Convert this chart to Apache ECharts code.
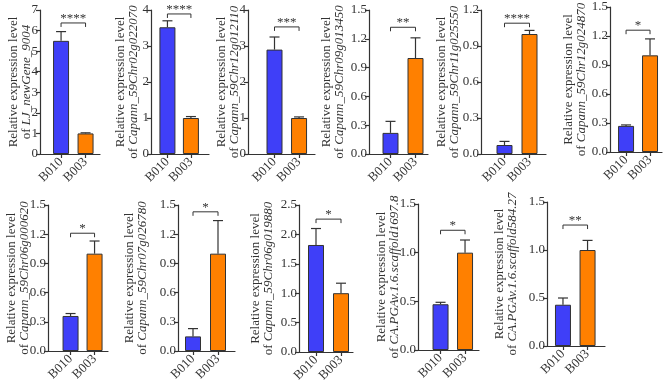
<!DOCTYPE html>
<html lang="en">
<head>
  <meta charset="UTF-8">
  <title>Relative expression</title>
  <style>
    html,body { width:100%; height:100%; margin:0; background:#fff; }
  </style>
</head>
<body>
  <div id="chart" style="width:669px;height:388px"></div>
  <script src="https://cdn.jsdelivr.net/npm/echarts@6/dist/echarts.min.js"></script>
  <script>
    var genes = ['LJ_newGene_9004', 'Capann_59Chr02g022070', 'Capann_59Chr12g012110', 'Capann_59Chr09g013450',
      'Capann_59Chr11g025550', 'Capann_59Chr12g024870', 'Capann_59Chr06g000620', 'Capann_59Chr07g026780',
      'Capann_59Chr06g019880', 'CA.PGAv.1.6.scaffold1697.8', 'CA.PGAv.1.6.scaffold584.27'];
    var groups = ['B010', 'B003'];
    var b010Mean = [5.5, 3.52, 2.9, 0.22, 0.075, 0.27, 0.36, 0.15, 1.82, 0.47, 0.43];
    var b010Top = [5.95, 3.7, 3.25, 0.34, 0.105, 0.28, 0.385, 0.23, 2.1, 0.49, 0.5];
    var b003Mean = [1, 1, 1, 1, 1, 1, 1, 1, 1, 1, 1];
    var b003Top = [1.03, 1.04, 1.03, 1.21, 1.03, 1.17, 1.13, 1.34, 1.17, 1.13, 1.1];
    var sigMarks = ['****', '****', '***', '**', '****', '*', '*', '*', '*', '*', '**'];
    var sigLevel = [6.37, 3.89, 3.53, 1.32, 1.09, 1.26, 1.21, 1.43, 2.26, 1.23, 1.26];
    var yMax = [7, 4, 4, 1.5, 1.2, 1.5, 1.5, 1.5, 2.5, 1.5, 1.5];
    var yStep = [1, 1, 1, 0.3, 0.3, 0.3, 0.3, 0.3, 0.5, 0.5, 0.5];

    // panel layout: y-axis x, top, x-axis end, bottom, x min, x max, nameGap
    var layout = [
      [40, 10, 100, 154, 0.14, 2.59, 7],
      [151, 10, 209, 154, 0.30, 2.77, 11],
      [248, 10, 315, 154, -0.08, 2.65, 7],
      [369, 10, 428, 154, 0.14, 2.5, 23],
      [481, 10, 546, 154, 0.06, 2.66, 20],
      [610, 7, 662, 152, 0.33, 2.5, 22],
      [48, 205, 108, 351, 0.06, 2.56, 17],
      [178, 205, 235, 351, 0.4, 2.68, 29],
      [299, 205, 353, 352, 0.32, 2.48, 24],
      [418, 204, 479, 350, 0.08, 2.57, 17],
      [547, 202, 605, 346, 0.35, 2.71, 28]
    ];

    var FONT = "'Liberation Serif', 'Times New Roman', serif";
    var INK = '#333';
    var BLUE = '#3f3ff8';
    var ORANGE = '#ff8000';

    var grids = [], xAxes = [], yAxes = [], series = [];

    function errRender(params, api) {
      var x = api.value(0);
      var p0 = api.coord([x, api.value(1)]);
      var p1 = api.coord([x, api.value(2)]);
      var st = { stroke: INK, lineWidth: 1.2 };
      return {
        type: 'group',
        children: [
          { type: 'line', shape: { x1: p0[0], y1: p0[1], x2: p1[0], y2: p1[1] }, style: st },
          { type: 'line', shape: { x1: p1[0] - 5, y1: p1[1], x2: p1[0] + 5, y2: p1[1] }, style: st }
        ]
      };
    }

    function sigRender(mark) {
      return function (params, api) {
        var a = api.coord([api.value(0), api.value(1)]);
        var b = api.coord([api.value(2), api.value(1)]);
        return {
          type: 'group',
          children: [
            { type: 'polyline', shape: { points: [[a[0], a[1] + 4], [a[0], a[1]], [b[0], b[1]], [b[0], b[1] + 4]] }, style: { stroke: INK, lineWidth: 1, fill: null } },
            { type: 'text', style: { x: (a[0] + b[0]) / 2, y: a[1] + 2, text: mark, fill: INK, font: '13px ' + FONT, align: 'center', verticalAlign: 'bottom' } }
          ]
        };
      };
    }

    genes.forEach(function (g, i) {
      var L = layout[i];
      var step = yStep[i];
      grids.push({ left: L[0], top: L[1], width: L[2] - L[0], height: L[3] - L[1], outerBoundsMode: 'none' });
      xAxes.push({
        gridIndex: i, type: 'value', min: L[4], max: L[5],
        splitLine: { show: false },
        axisLine: { show: true, onZero: false, lineStyle: { color: INK, width: 1.2 } },
        axisTick: { show: true, customValues: [1, 2], length: 4, lineStyle: { color: INK, width: 1.2 } },
        axisLabel: {
          customValues: [1, 2], rotate: 45, margin: 6, color: INK, fontFamily: FONT, fontSize: 13,
          formatter: function (v) { return groups[Math.round(v) - 1]; }
        }
      });
      yAxes.push({
        gridIndex: i, type: 'value', min: 0, max: yMax[i], interval: step,
        name: 'Relative expression level\nof {i|' + g + '}',
        nameLocation: 'middle', nameRotate: 90, nameGap: L[6], nameMoveOverlap: false,
        nameTextStyle: {
          color: INK, fontFamily: FONT, fontSize: 13, lineHeight: 13,
          rich: { i: { fontStyle: 'italic', fontFamily: FONT, fontSize: 13, color: INK, lineHeight: 13 } }
        },
        splitLine: { show: false },
        axisLine: { show: true, onZero: false, lineStyle: { color: INK, width: 1.2 } },
        axisTick: { show: true, length: 4, lineStyle: { color: INK, width: 1.2 } },
        axisLabel: {
          color: INK, fontFamily: FONT, fontSize: 13, margin: 2,
          formatter: function (v) { return step < 1 ? v.toFixed(1) : String(Math.round(v)); }
        }
      });
      series.push({
        type: 'bar', xAxisIndex: i, yAxisIndex: i, barWidth: 16,
        itemStyle: { borderColor: INK, borderWidth: 1 },
        data: [
          { value: [1, b010Mean[i]], itemStyle: { color: BLUE } },
          { value: [2, b003Mean[i]], itemStyle: { color: ORANGE } }
        ]
      });
      series.push({
        type: 'custom', xAxisIndex: i, yAxisIndex: i, renderItem: errRender, z: 3,
        data: [[1, b010Mean[i], b010Top[i]], [2, b003Mean[i], b003Top[i]]]
      });
      series.push({
        type: 'custom', xAxisIndex: i, yAxisIndex: i, renderItem: sigRender(sigMarks[i]), z: 3,
        data: [[1, sigLevel[i], 2]]
      });
    });

    var myChart = echarts.init(document.getElementById('chart'));
    myChart.setOption({
      animation: false,
      grid: grids,
      xAxis: xAxes,
      yAxis: yAxes,
      series: series
    });
  </script>
</body>
</html>
